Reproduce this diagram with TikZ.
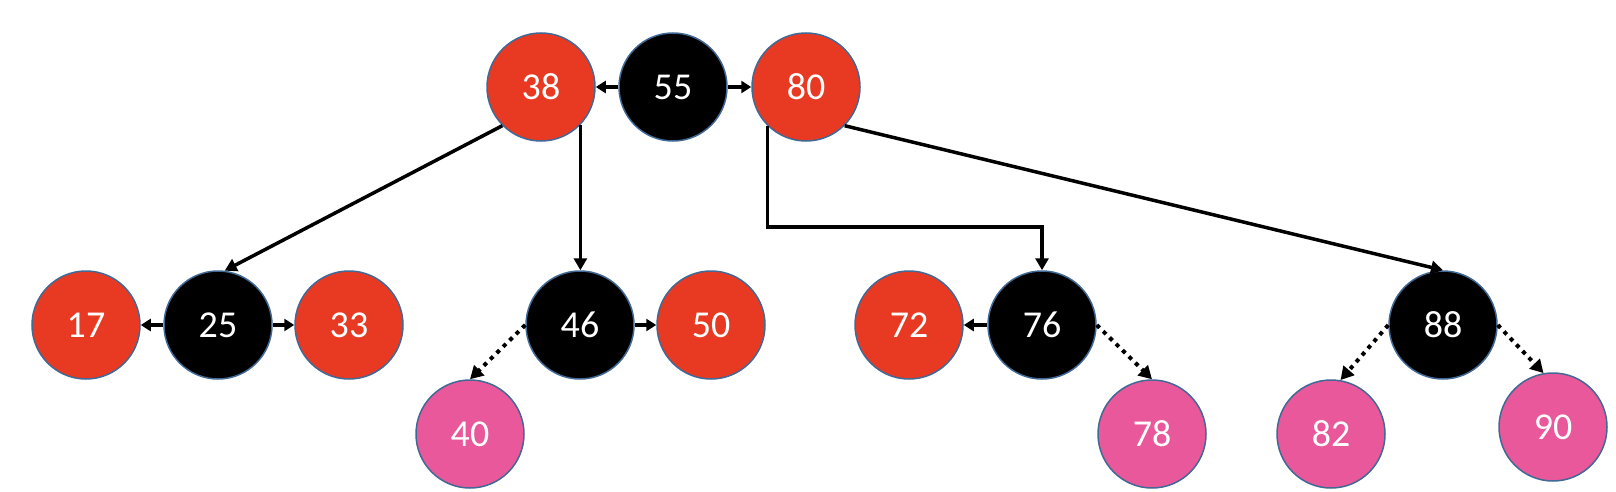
\documentclass[tikz,border=0pt]{standalone}
\usepackage{fontspec}
\setmainfont{Carlito}
\usetikzlibrary{arrows.meta}
\definecolor{rbred}{RGB}{232,58,35}
\definecolor{rbpink}{RGB}{232,88,155}
\definecolor{rbedge}{RGB}{65,105,150}
\tikzset{
  nd/.style={circle,minimum size=108pt,inner sep=0pt,draw=rbedge,line width=1.5pt,text=white,font=\fontsize{38}{44}\selectfont},
  rednd/.style={nd,fill=rbred},
  blacknd/.style={nd,fill=black},
  pinknd/.style={nd,fill=rbpink},
  link/.style={line width=3.5pt,-{Triangle[length=12pt,width=13pt]}},
  shortlink/.style={line width=3.5pt,-{Triangle[length=10pt,width=12pt]}},
  nulllink/.style={line width=4pt,dash pattern=on 4pt off 5pt,-{Triangle[length=13pt,width=14pt]}}
}
\begin{document}
\begin{tikzpicture}[x=1pt,y=-1pt]
\useasboundingbox (0,0) rectangle (1616,492);
% top row
\node[rednd]   (n38) at (541,87) {38};
\node[blacknd] (n55) at (673,87) {55};
\node[rednd]   (n80) at (806,87) {80};
% middle row
\node[rednd]   (n17) at (86,325) {17};
\node[blacknd] (n25) at (218,325) {25};
\node[rednd]   (n33) at (349,325) {33};
\node[blacknd] (n46) at (580,325) {46};
\node[rednd]   (n50) at (711,325) {50};
\node[rednd]   (n72) at (909,325) {72};
\node[blacknd] (n76) at (1042,325) {76};
\node[blacknd] (n88) at (1443,325) {88};
% bottom row
\node[pinknd]  (n40) at (470,434) {40};
\node[pinknd]  (n78) at (1152,434) {78};
\node[pinknd]  (n82) at (1331,434) {82};
\node[pinknd]  (n90) at (1553,427) {90};
% connectors
\draw[shortlink] (n55) -- (n38);
\draw[shortlink] (n55) -- (n80);
\draw[shortlink] (n25) -- (n17);
\draw[shortlink] (n25) -- (n33);
\draw[shortlink] (n46) -- (n50);
\draw[shortlink] (n76) -- (n72);
\draw[link] (n38.-135) -- (n25.83);
\draw[link] (n38.-44) -- (n38.-44 |- n46.north);
\draw[link] (n80.-135) -- (n80.-135 |- 0,227) -| (n76.north);
\draw[link] (n80.-45) -- (n88.north);
\draw[nulllink] (n46.west) -- (n40.north);
\draw[nulllink] (n76.east) -- (n78.north);
\draw[nulllink] (n88.west) -- (n82.80);
\draw[nulllink] (n88.east) -- (n90.100);
\end{tikzpicture}
\end{document}
